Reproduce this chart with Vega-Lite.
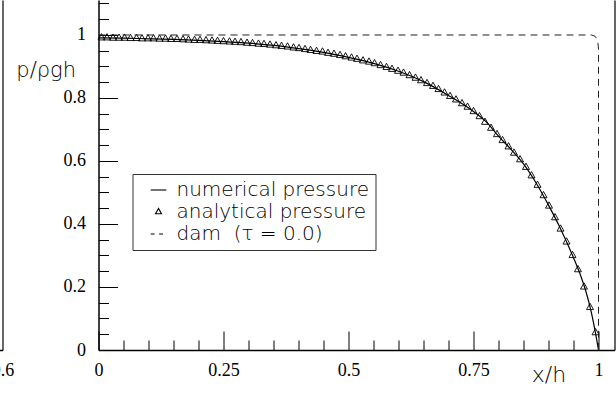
{
  "$schema": "https://vega.github.io/schema/vega-lite/v6.json",
  "padding": {"left": -9.5, "top": 0, "right": 1, "bottom": 0},
  "background": "white",
  "spacing": 96,
  "bounds": "flush",
  "config": {
    "view": {"stroke": null},
    "axis": {"grid": false, "domainColor": "black", "domainWidth": 1.5, "tickColor": "black", "tickWidth": 1, "labelColor": "black", "labelFont": "Liberation Serif", "labelFontSize": 18, "labelFlush": false, "labelOverlap": false, "titleColor": "black", "titleFont": "DejaVu Sans", "titleFontWeight": 200, "titleFontSize": 21},
    "legend": {"labelFont": "DejaVu Sans", "labelFontWeight": 200, "labelFontSize": 20, "labelColor": "black", "labelLimit": 400}
  },
  "datasets": {
    "numerical": [
      {"x": 0.0, "p": 0.991}, {"x": 0.05, "p": 0.990}, {"x": 0.1, "p": 0.988}, {"x": 0.15, "p": 0.986},
      {"x": 0.2, "p": 0.983}, {"x": 0.25, "p": 0.979}, {"x": 0.3, "p": 0.974}, {"x": 0.35, "p": 0.967},
      {"x": 0.4, "p": 0.957}, {"x": 0.45, "p": 0.945}, {"x": 0.5, "p": 0.929}, {"x": 0.55, "p": 0.910},
      {"x": 0.6, "p": 0.885}, {"x": 0.65, "p": 0.852}, {"x": 0.7, "p": 0.808}, {"x": 0.75, "p": 0.757},
      {"x": 0.775, "p": 0.725}, {"x": 0.8, "p": 0.679}, {"x": 0.825, "p": 0.637}, {"x": 0.85, "p": 0.591},
      {"x": 0.875, "p": 0.531}, {"x": 0.9, "p": 0.460}, {"x": 0.925, "p": 0.382}, {"x": 0.95, "p": 0.293},
      {"x": 0.965, "p": 0.233}, {"x": 0.975, "p": 0.185}, {"x": 0.985, "p": 0.124}, {"x": 0.993, "p": 0.062},
      {"x": 1.0, "p": 0.0}
    ],
    "analytical": [
      {"x": 0.006, "p": 0.991}, {"x": 0.017, "p": 0.991}, {"x": 0.029, "p": 0.990}, {"x": 0.041, "p": 0.990},
      {"x": 0.052, "p": 0.990}, {"x": 0.064, "p": 0.989}, {"x": 0.076, "p": 0.989}, {"x": 0.087, "p": 0.988},
      {"x": 0.099, "p": 0.988}, {"x": 0.110, "p": 0.988}, {"x": 0.122, "p": 0.987}, {"x": 0.134, "p": 0.987},
      {"x": 0.145, "p": 0.986}, {"x": 0.157, "p": 0.986}, {"x": 0.169, "p": 0.985}, {"x": 0.180, "p": 0.984},
      {"x": 0.192, "p": 0.983}, {"x": 0.203, "p": 0.983}, {"x": 0.215, "p": 0.982}, {"x": 0.227, "p": 0.981},
      {"x": 0.238, "p": 0.980}, {"x": 0.250, "p": 0.979}, {"x": 0.262, "p": 0.978}, {"x": 0.273, "p": 0.977},
      {"x": 0.285, "p": 0.976}, {"x": 0.297, "p": 0.974}, {"x": 0.308, "p": 0.973}, {"x": 0.320, "p": 0.971},
      {"x": 0.331, "p": 0.970}, {"x": 0.343, "p": 0.968}, {"x": 0.355, "p": 0.966}, {"x": 0.366, "p": 0.964},
      {"x": 0.378, "p": 0.962}, {"x": 0.390, "p": 0.959}, {"x": 0.401, "p": 0.957}, {"x": 0.413, "p": 0.954},
      {"x": 0.424, "p": 0.951}, {"x": 0.436, "p": 0.948}, {"x": 0.448, "p": 0.946}, {"x": 0.459, "p": 0.942},
      {"x": 0.471, "p": 0.939}, {"x": 0.483, "p": 0.935}, {"x": 0.494, "p": 0.931}, {"x": 0.506, "p": 0.927},
      {"x": 0.517, "p": 0.923}, {"x": 0.529, "p": 0.918}, {"x": 0.541, "p": 0.914}, {"x": 0.552, "p": 0.909},
      {"x": 0.564, "p": 0.903}, {"x": 0.576, "p": 0.897}, {"x": 0.587, "p": 0.891}, {"x": 0.599, "p": 0.885},
      {"x": 0.610, "p": 0.879}, {"x": 0.622, "p": 0.871}, {"x": 0.634, "p": 0.863}, {"x": 0.645, "p": 0.855},
      {"x": 0.657, "p": 0.846}, {"x": 0.669, "p": 0.837}, {"x": 0.680, "p": 0.827}, {"x": 0.692, "p": 0.816},
      {"x": 0.703, "p": 0.805}, {"x": 0.715, "p": 0.794}, {"x": 0.727, "p": 0.782}, {"x": 0.738, "p": 0.771},
      {"x": 0.750, "p": 0.757}, {"x": 0.762, "p": 0.741}, {"x": 0.773, "p": 0.723}, {"x": 0.785, "p": 0.704},
      {"x": 0.797, "p": 0.684}, {"x": 0.808, "p": 0.665}, {"x": 0.820, "p": 0.645}, {"x": 0.831, "p": 0.625},
      {"x": 0.843, "p": 0.604}, {"x": 0.855, "p": 0.580}, {"x": 0.866, "p": 0.553}, {"x": 0.878, "p": 0.523},
      {"x": 0.890, "p": 0.490}, {"x": 0.901, "p": 0.457}, {"x": 0.913, "p": 0.420}, {"x": 0.924, "p": 0.384},
      {"x": 0.936, "p": 0.343}, {"x": 0.948, "p": 0.300}, {"x": 0.959, "p": 0.255}, {"x": 0.971, "p": 0.200},
      {"x": 0.983, "p": 0.135}, {"x": 0.994, "p": 0.055}
    ],
    "dam": [
      {"x": 0.0, "p": 1.0}, {"x": 0.986, "p": 1.0}, {"x": 0.993, "p": 0.996}, {"x": 0.997, "p": 0.987},
      {"x": 0.999, "p": 0.972}, {"x": 1.0, "p": 0.955}, {"x": 1.0, "p": 0.0}
    ]
  },
  "hconcat": [
    {
      "width": 3,
      "height": 350,
      "data": {"values": [{}]},
      "mark": {"type": "point", "opacity": 0},
      "encoding": {
        "x": {"datum": 0.6, "type": "quantitative", "scale": {"domain": [0.59, 0.6], "nice": false},
              "axis": {"orient": "bottom", "values": [0.6], "ticks": false, "title": null, "labelPadding": 11, "labelExpr": "format(datum.value, '.1f')"}},
        "y": {"datum": 0, "type": "quantitative", "scale": {"domain": [0, 1.1111], "nice": false},
              "axis": {"orient": "right", "ticks": false, "labels": false, "title": null, "domainWidth": 1.2}}
      }
    },
    {
      "width": 516,
      "height": 350,
      "layer": [
        {
          "data": {"name": "numerical"},
          "mark": {"type": "line", "color": "black", "strokeWidth": 1.2, "interpolate": "monotone"},
          "encoding": {
            "x": {"field": "x", "type": "quantitative", "scale": {"domain": [0, 1.032], "nice": false},
                  "axis": {"orient": "bottom", "values": [0, 0.25, 0.5, 0.75, 1.0], "tickSize": -19,
                           "labelExpr": "format(datum.value, '~g')", "labelPadding": 30, "labelOverlap": false,
                           "title": "x/h", "titleX": 450, "titleY": 31, "titleAlign": "center", "titleBaseline": "alphabetic", "titleFontSize": 22}},
            "y": {"field": "p", "type": "quantitative", "scale": {"domain": [0, 1.1111], "nice": false},
                  "axis": {"orient": "left", "values": [0, 0.2, 0.4, 0.6, 0.8, 1.0], "tickSize": -19,
                           "labelExpr": "format(datum.value, '~g')", "labelPadding": 32, "labelOverlap": false,
                           "title": "p/ρgh", "titleAngle": 0, "titleX": -23, "titleY": 76, "titleAlign": "right", "titleBaseline": "alphabetic"}}
          }
        },
        {
          "data": {"name": "analytical"},
          "mark": {"type": "point", "filled": false, "color": "black", "strokeWidth": 0.9, "size": 196, "opacity": 1},
          "encoding": {
            "x": {"field": "x", "type": "quantitative", "scale": {"domain": [0, 1.032], "nice": false},
                  "axis": {"orient": "bottom", "values": [0.05, 0.1, 0.15, 0.2, 0.3, 0.35, 0.4, 0.45, 0.55, 0.6, 0.65, 0.7, 0.8, 0.85, 0.9, 0.95],
                           "tickSize": -10, "labels": false, "domain": false, "title": null}},
            "y": {"field": "p", "type": "quantitative", "scale": {"domain": [0, 1.1111], "nice": false},
                  "axis": {"orient": "left", "values": [0.05, 0.1, 0.15, 0.25, 0.3, 0.35, 0.45, 0.5, 0.55, 0.65, 0.7, 0.75, 0.85, 0.9, 0.95, 1.05, 1.1],
                           "tickSize": -10, "labels": false, "domain": false, "title": null}},
            "shape": {"datum": "analytical pressure", "type": "nominal",
                      "scale": {"domain": ["numerical pressure", "analytical pressure", "dam\u00a0 (τ = 0.0)"],
                                "range": ["M-1.3,0H1.3", "M0,-0.6L-0.5,0.3L0.5,0.3Z", "M-1.3,0H-0.65M0.1,0H0.75"]},
                      "legend": {"orient": "none", "legendX": 133, "legendY": 174, "title": null, "direction": "vertical",
                                 "padding": 6, "strokeColor": "#333", "symbolSize": 144, "symbolOffset": 10, "labelOffset": 8,
                                 "rowPadding": 2, "symbolStrokeWidth": 1.1, "symbolStrokeColor": "black", "symbolFillColor": "transparent"}}
          }
        },
        {
          "data": {"name": "dam"},
          "mark": {"type": "line", "color": "#222", "strokeWidth": 1, "strokeDash": [7, 5]},
          "encoding": {
            "x": {"field": "x", "type": "quantitative", "scale": {"domain": [0, 1.032], "nice": false}, "axis": null},
            "y": {"field": "p", "type": "quantitative", "scale": {"domain": [0, 1.1111], "nice": false},
                  "axis": {"orient": "right", "ticks": false, "labels": false, "title": null, "domainWidth": 1.2}}
          }
        }
      ],
      "resolve": {"axis": {"x": "independent", "y": "independent"}}
    }
  ]
}
